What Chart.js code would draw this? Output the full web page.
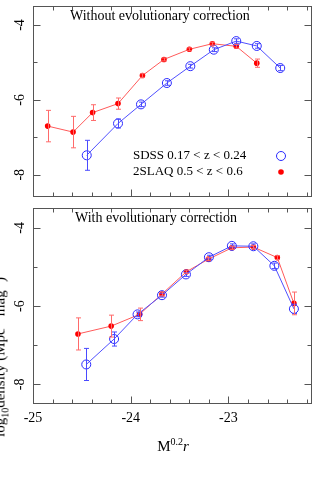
<!DOCTYPE html>
<html>
<head>
<meta charset="utf-8">
<script src="https://cdn.jsdelivr.net/npm/chart.js@4"></script>
<style>
  html, body { margin: 0; padding: 0; background: #fff; overflow: hidden; }
  #wrap { position: relative; width: 317px; height: 490px; overflow: hidden; }
  canvas { position: absolute; left: 0; }
  #top { top: 0; }
  #bottom { top: 202px; }
  .lbl { position: absolute; font-family: "Liberation Serif", serif; color: #000; white-space: nowrap; }
  #ytitle { left: 0px; top: 357px; font-size: 15px; transform: translate(-50%, -50%) rotate(-90deg); }
  #xtitle { left: 173px; top: 445px; font-size: 15px; transform: translate(-50%, -50%); }
  sup, sub { font-size: 10px; }
</style>
</head>
<body>
<div id="wrap">
  <canvas id="top" width="317" height="202"></canvas>
  <canvas id="bottom" width="317" height="288"></canvas>
  <div class="lbl" id="ytitle">log<sub>10</sub>density (Mpc<sup>-3</sup> mag<sup>-1</sup>)</div>
  <div class="lbl" id="xtitle">M<sup>0.2</sup><i>r</i></div>
</div>
<script>
// data
const magTopSdss = [-24.45, -24.13, -23.895, -23.63, -23.39, -23.15, -22.92, -22.71, -22.47];
const denTopSdss = [-7.48, -6.63, -6.12, -5.55, -5.10, -4.66, -4.43, -4.56, -5.15];
const errTopSdss = [0.40, 0.12, 0.06, 0.06, 0.05, 0.05, 0.06, 0.06, 0.07];

const magTopSlaq = [-24.85, -24.59, -24.39, -24.13, -23.88, -23.66, -23.40, -23.165, -22.92, -22.71];
const denTopSlaq = [-6.70, -6.86, -6.34, -6.10, -5.35, -4.92, -4.65, -4.50, -4.57, -5.02];
const errTopSlaq = [0.42, 0.42, 0.21, 0.15, 0.05, 0.04, 0.04, 0.04, 0.05, 0.11];

const magBotSdss = [-24.455, -24.17, -23.93, -23.68, -23.435, -23.20, -22.965, -22.745, -22.53, -22.33];
const denBotSdss = [-7.49, -6.84, -6.21, -5.72, -5.19, -4.75, -4.46, -4.47, -4.97, -6.07];
const errBotSdss = [0.41, 0.18, 0.06, 0.05, 0.05, 0.05, 0.05, 0.06, 0.07, 0.12];

const magBotSlaq = [-24.54, -24.20, -23.91, -23.68, -23.43, -23.205, -22.965, -22.745, -22.50, -22.33];
const denBotSlaq = [-6.71, -6.51, -6.21, -5.69, -5.12, -4.80, -4.51, -4.49, -4.76, -5.93];
const errBotSlaq = [0.41, 0.28, 0.16, 0.05, 0.04, 0.04, 0.04, 0.04, 0.05, 0.29];

const xTickLabels = [-25, -24, -23];
const yTickLabels = [-4, -6, -8];
const legendLabels = ['SDSS 0.17 < z < 0.24', '2SLAQ 0.5 < z < 0.6'];

const BLUE = '#2a2aff';
const RED = '#ff0000';
const FONT = '"Liberation Serif", serif';

function pts(xs, ys) {
    return xs.map((x, i) => ({ x: x, y: ys[i] }));
}

function sdssSet(xs, ys, err) {
    return {
        label: legendLabels[0], data: pts(xs, ys), err: err, errColor: '#4a4aff',
        borderColor: '#5050ff', borderWidth: 1, showLine: true,
        pointRadius: 4.5, pointBorderColor: BLUE, pointBorderWidth: 1,
        pointBackgroundColor: 'rgba(0,0,0,0)'
    };
}

function slaqSet(xs, ys, err) {
    return {
        label: legendLabels[1], data: pts(xs, ys), err: err, errColor: '#ff6a6a',
        borderColor: '#ff5a5a', borderWidth: 1, showLine: true,
        pointRadius: 2.8, pointBorderWidth: 0, pointBackgroundColor: RED
    };
}

// error bars
const errorBars = {
    id: 'errorBars',
    afterDatasetsDraw(chart) {
        const ctx = chart.ctx;
        const ys = chart.scales.y;
        chart.data.datasets.forEach((ds, di) => {
            const meta = chart.getDatasetMeta(di);
            ctx.save();
            ctx.strokeStyle = ds.errColor;
            ctx.lineWidth = 1;
            meta.data.forEach((p, i) => {
                const v = ds.data[i].y;
                const y1 = ys.getPixelForValue(v + ds.err[i]);
                const y2 = ys.getPixelForValue(v - ds.err[i]);
                const x = Math.round(p.x) + 0.5;
                ctx.beginPath();
                ctx.moveTo(x, y1); ctx.lineTo(x, y2);
                ctx.moveTo(x - 2.5, y1); ctx.lineTo(x + 2.5, y1);
                ctx.moveTo(x - 2.5, y2); ctx.lineTo(x + 2.5, y2);
                ctx.stroke();
            });
            ctx.restore();
        });
    }
};

// frame, inward ticks, labels
const frame = {
    id: 'frame',
    afterDraw(chart, args, opts) {
        const ctx = chart.ctx;
        const a = chart.chartArea;
        const xs = chart.scales.x, ys = chart.scales.y;
        ctx.save();
        ctx.strokeStyle = '#555';
        ctx.lineWidth = 1;
        const L = Math.round(a.left) + 0.5, R = Math.round(a.right) - 0.5;
        const T = Math.round(a.top) + 0.5, B = Math.round(a.bottom) - 0.5;
        ctx.strokeRect(L, T, R - L, B - T);
        ctx.beginPath();
        for (let k = 0; k <= 14; k++) {
            const v = -25 + k * 0.2;
            const x = Math.round(xs.getPixelForValue(v)) + 0.5;
            const len = (k % 5 === 0) ? 7 : 4;
            ctx.moveTo(x, B); ctx.lineTo(x, B - len);
            ctx.moveTo(x, T); ctx.lineTo(x, T + len);
        }
        for (let v = -8; v <= -4; v++) {
            const y = Math.round(ys.getPixelForValue(v)) + 0.5;
            const len = (v % 2 === 0) ? 7 : 4;
            ctx.moveTo(L, y); ctx.lineTo(L + len, y);
            ctx.moveTo(R, y); ctx.lineTo(R - len, y);
        }
        ctx.stroke();

        ctx.fillStyle = '#000';
        ctx.font = '14px ' + FONT;
        ctx.textAlign = 'center';
        ctx.textBaseline = 'middle';
        yTickLabels.forEach(v => {
            ctx.save();
            ctx.translate(20, ys.getPixelForValue(v));
            ctx.rotate(-Math.PI / 2);
            ctx.fillText(String(v), 0, 0);
            ctx.restore();
        });
        if (opts.xLabels) {
            xTickLabels.forEach(v => {
                ctx.fillText(String(v), xs.getPixelForValue(v), B + 15);
            });
        }

        ctx.textAlign = 'left';
        ctx.font = '14px ' + FONT;
        ctx.fillText(opts.title, opts.titleX, 16);

        if (opts.legend) {
            ctx.font = '13px ' + FONT;
            ctx.fillText(legendLabels[0], 133, 156);
            ctx.fillText(legendLabels[1], 133, 172);
            ctx.beginPath();
            ctx.strokeStyle = BLUE;
            ctx.arc(281, 156, 4.5, 0, Math.PI * 2);
            ctx.stroke();
            ctx.beginPath();
            ctx.fillStyle = RED;
            ctx.arc(281, 172, 2.8, 0, Math.PI * 2);
            ctx.fill();
        }
        ctx.restore();
    }
};

function makeChart(id, datasets, yMin, yMax, padBottom, frameOpts) {
    return new Chart(document.getElementById(id), {
        type: 'scatter',
        data: { datasets: datasets },
        options: {
            responsive: false,
            animation: false,
            layout: { padding: { left: 33, right: 2, top: 0, bottom: padBottom } },
            scales: {
                x: { type: 'linear', min: -25, max: -22.15, display: false },
                y: { type: 'linear', min: yMin, max: yMax, display: false }
            },
            plugins: {
                legend: { display: false },
                tooltip: { enabled: false },
                frame: frameOpts
            }
        },
        plugins: [errorBars, frame]
    });
}

makeChart('top',
    [sdssSet(magTopSdss, denTopSdss, errTopSdss), slaqSet(magTopSlaq, denTopSlaq, errTopSlaq)],
    -8.58, -3.48, 0,
    { title: 'Without evolutionary correction', titleX: 70, legend: true, xLabels: false });

makeChart('bottom',
    [sdssSet(magBotSdss, denBotSdss, errBotSdss), slaqSet(magBotSlaq, denBotSlaq, errBotSlaq)],
    -8.5, -3.48, 86,
    { title: 'With evolutionary correction', titleX: 75, legend: false, xLabels: true });
</script>
</body>
</html>
